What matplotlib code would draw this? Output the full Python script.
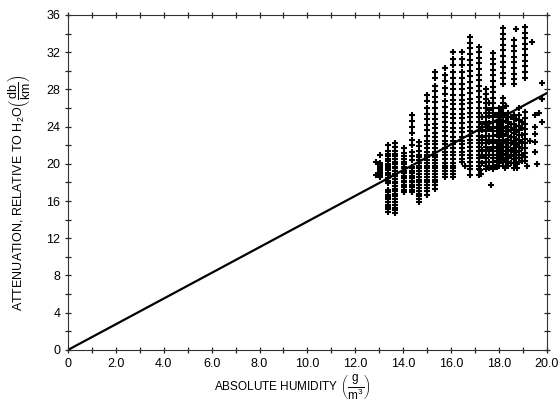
import numpy as np
import matplotlib.pyplot as plt
from matplotlib.ticker import MultipleLocator, FixedLocator, FixedFormatter

plt.rcParams['font.family'] = ['Liberation Sans', 'DejaVu Sans']
plt.rcParams['mathtext.fontset'] = 'custom'
plt.rcParams['mathtext.rm'] = 'Liberation Sans'
plt.rcParams['mathtext.it'] = 'Liberation Sans'

# ---- data ----
# measured points, grouped in vertical columns (absolute humidity, attenuation)
COLUMN_X = [12.85, 13.05, 13.35, 13.68, 14.03, 14.35, 14.67, 14.99, 15.35, 15.74,
            16.09, 16.47, 16.81, 17.16, 17.45, 17.76, 18.0, 18.18, 18.4, 18.62,
            18.82, 19.08, 19.5, 19.8]
COLUMN_Y = [
    [20.2, 18.8],
    [20.9, 20.1, 19.9, 19.7, 19.5, 19.3, 19.1, 18.9, 18.7, 18.6],
    [22.0, 21.4, 21.1, 20.8, 20.5, 20.3, 20.0, 19.8, 19.5, 19.3, 19.0, 18.8, 18.5,
     18.2, 17.9, 17.2, 17.0, 16.7, 16.4, 16.2, 15.9, 15.6, 15.4, 15.1, 14.8],
    [22.2, 21.8, 21.4, 21.1, 20.8, 20.5, 20.2, 20.0, 19.7, 19.5, 19.2, 18.9, 18.7,
     18.4, 18.1, 17.9, 17.6, 17.3, 17.1, 16.8, 16.5, 16.2, 15.9, 15.6, 15.3, 15.0, 14.7],
    [21.7, 21.2, 20.8, 20.5, 20.2, 20.0, 19.7, 19.5, 19.2, 19.0, 18.7, 18.5, 18.2,
     18.0, 17.7, 17.5, 17.2, 17.0],
    [25.3, 24.6, 24.0, 23.3, 22.6, 22.0, 21.3, 20.8, 20.4, 19.7, 19.5, 19.2, 19.0,
     18.7, 18.5, 18.2, 18.0, 17.7, 17.5, 17.2, 17.0],
    [22.4, 21.9, 21.4, 21.0, 20.7, 20.4, 20.1, 19.8, 19.5, 19.2, 18.9, 18.6, 18.3,
     18.0, 17.7, 17.4, 17.1, 16.8, 16.5, 16.2, 15.9],
    [27.4, 26.8, 26.0, 25.4, 24.8, 24.2, 23.6, 23.0, 22.5, 22.1, 21.7, 21.3, 21.0,
     20.7, 20.4, 20.1, 19.8, 19.5, 19.2, 18.9, 18.6, 18.3, 18.0, 17.7, 17.4, 17.1, 16.7],
    [29.9, 29.2, 28.4, 27.8, 27.2, 26.6, 26.0, 25.4, 24.8, 24.3, 23.8, 23.3, 22.9,
     22.5, 22.1, 21.7, 21.3, 21.0, 20.7, 20.4, 20.1, 19.8, 19.5, 19.2, 18.9, 18.6,
     18.3, 18.0, 17.7, 17.3],
    [30.3, 29.6, 28.9, 28.2, 27.5, 26.8, 26.1, 25.5, 25.0, 24.5, 24.0, 23.5, 23.0,
     22.5, 22.1, 21.7, 21.3, 20.9, 20.5, 20.1, 19.8, 19.5, 19.2, 18.9, 18.6],
    [32.0, 31.3, 30.6, 29.9, 29.2, 28.6, 28.0, 27.4, 26.9, 26.4, 25.9, 25.4, 24.9,
     24.4, 23.9, 23.4, 22.9, 22.5, 22.1, 21.7, 21.3, 20.9, 20.5, 20.1, 19.8, 19.5,
     19.2, 18.9, 18.6],
    [32.0, 31.3, 30.6, 29.9, 29.2, 28.6, 28.0, 27.4, 26.9, 26.4, 25.9, 25.4, 24.9,
     24.4, 23.9, 23.4, 22.9, 22.5, 22.1, 21.7, 21.3, 20.9, 20.5, 20.2],
    [33.6, 33.0, 32.4, 31.8, 31.2, 30.6, 30.0, 29.4, 28.8, 28.2, 27.6, 27.0, 26.5,
     26.0, 25.5, 25.0, 24.5, 24.0, 23.5, 23.0, 22.6, 22.2, 21.8, 21.4, 21.0, 20.6,
     20.2, 19.8, 19.4, 18.8],
    [32.6, 32.0, 31.4, 30.8, 30.2, 29.6, 29.0, 28.4, 27.8, 27.2, 26.6, 26.0, 25.5,
     25.0, 24.5, 24.0, 23.5, 23.0, 22.6, 22.2, 21.8, 21.4, 21.0, 20.6, 20.2, 19.8,
     19.4, 18.8],
    [28.0, 27.5, 27.0, 26.5, 26.0, 25.5, 25.0, 24.5, 24.0, 23.5, 23.0, 22.6, 22.2,
     21.8, 21.4, 21.0, 20.6, 20.2, 19.8, 19.4],
    [31.9, 31.3, 30.7, 30.1, 29.5, 28.9, 28.3, 27.7, 27.1, 26.5, 26.0, 25.5, 25.0,
     24.5, 24.0, 23.5, 23.0, 22.6, 22.2, 21.8, 21.4, 21.0, 20.6, 20.2, 19.8, 19.4],
    [26.0, 25.5, 25.0, 24.5, 24.0, 23.5, 23.0, 22.6, 22.2, 21.8, 21.4, 21.0, 20.6,
     20.2, 19.8],
    [34.6, 34.0, 33.4, 32.8, 32.2, 31.6, 31.0, 30.4, 29.8, 29.2, 28.6,
     27.1, 26.5, 26.0, 25.5, 25.0, 24.5, 24.0, 23.5, 23.0, 22.6, 22.2, 21.8, 21.4,
     21.0, 20.6, 20.2, 19.8],
    [25.5, 25.0, 24.5, 24.0, 23.5, 23.0, 22.6, 22.2, 21.8, 21.4, 21.0, 20.6, 20.2,
     19.8],
    [33.3, 32.7, 32.1, 31.5, 30.9, 30.3, 29.7, 29.1, 28.6,
     25.3, 24.8, 24.3, 23.8, 23.3, 22.9, 22.5, 22.1, 21.7, 21.3, 20.9, 20.5, 20.1, 19.6],
    [26.0, 25.3, 24.7, 24.1, 23.6, 23.1, 22.6, 22.2, 21.8, 21.4, 21.0, 20.6, 20.2],
    [34.7, 34.1, 33.5, 32.9, 32.3, 31.7, 31.1, 30.5, 29.9, 29.2,
     25.6, 24.9, 24.3, 23.7, 23.2, 22.7, 22.2, 21.7, 21.2, 20.7, 20.3],
    [25.3, 24.0, 23.2, 22.4, 21.3],
    [27.0, 24.5],
]
# extra points filling the crowded region at high humidity
BLOB_X = [17.3, 17.6, 17.9, 18.1, 18.3, 18.5, 18.7, 18.95]
BLOB_Y = [
    [25.0, 24.3, 23.6, 22.9, 22.2, 21.5, 20.8, 20.1],
    [26.5, 25.8, 25.1, 24.4, 23.7, 23.0, 22.3, 21.6, 20.9, 20.2, 19.6],
    [25.2, 24.5, 23.8, 23.1, 22.4, 21.7, 21.0, 20.3, 19.7],
    [25.9, 25.2, 24.5, 23.8, 23.1, 22.4, 21.7, 21.0, 20.3],
    [26.2, 25.2, 24.6, 23.9, 23.2, 22.5, 21.8, 21.1, 20.4, 19.8],
    [25.0, 24.3, 23.6, 22.9, 22.2, 21.5, 20.8, 20.1],
    [24.8, 24.1, 23.4, 22.7, 22.0, 21.3, 20.6, 20.0],
    [24.5, 23.8, 23.1, 22.4, 21.7, 21.0, 20.3],
]
# isolated points away from the columns
STRAY_X = [17.69, 16.58, 17.2, 17.83, 18.25, 18.75, 19.16, 19.58, 17.27,
           18.73, 19.4, 19.78, 19.69, 19.3]
STRAY_Y = [17.7, 19.8, 19.3, 19.7, 19.6, 19.5, 19.8, 20.0, 18.9,
           34.5, 33.1, 28.7, 25.5, 22.5]

# straight-line relation drawn through the origin
LINE_X = [0.0, 20.0]
LINE_Y = [0.0, 27.6]

X_TICKS = [0, 2, 4, 6, 8, 10, 12, 14, 16, 18, 20]
X_TICK_LABELS = ["0", "2.0", "4.0", "6.0", "8.0", "10.0", "12.0", "14.0", "16.0", "18.0", "20.0"]
Y_TICKS = [0, 4, 8, 12, 16, 20, 24, 28, 32, 36]

# ---- plot ----
fig = plt.figure(figsize=(5.6, 4.05), dpi=100)
ax = fig.add_axes([0.1214, 0.136, 0.855, 0.827])

px, py = [], []
for cx, cy in ((COLUMN_X, COLUMN_Y), (BLOB_X, BLOB_Y)):
    for x, ys in zip(cx, cy):
        px += [x] * len(ys)
        py += ys
px += STRAY_X
py += STRAY_Y
ax.plot(px, py, linestyle="none", marker="+", markersize=5,
        markeredgewidth=1.5, color="black")
ax.plot(LINE_X, LINE_Y, color="black", linewidth=1.6)

ax.set_xlim(0, 20)
ax.set_ylim(0, 36)
ax.xaxis.set_major_locator(FixedLocator(X_TICKS))
ax.xaxis.set_major_formatter(FixedFormatter(X_TICK_LABELS))
ax.xaxis.set_minor_locator(MultipleLocator(1))
ax.yaxis.set_major_locator(FixedLocator(Y_TICKS))
ax.yaxis.set_minor_locator(MultipleLocator(2))
for which in ("major", "minor"):
    ax.tick_params(which=which, direction="inout", length=5, width=0.9,
                   top=True, right=True, color="#222222")
ax.tick_params(labelsize=9, pad=3)
for s in ax.spines.values():
    s.set_linewidth(0.8)
    s.set_color("#333333")

ax.set_xlabel(r"ABSOLUTE HUMIDITY $\left(\dfrac{\mathrm{g}}{\mathrm{m}^3}\right)$",
              fontsize=8.5)
ax.xaxis.set_label_coords(0.468, -0.068)
ax.set_ylabel(r"ATTENUATION, RELATIVE TO H$_2$O$\left(\dfrac{\mathrm{db}}{\mathrm{km}}\right)$",
              fontsize=9)
ax.yaxis.set_label_coords(-0.076, 0.47)

fig.savefig("out.png", dpi=100)
